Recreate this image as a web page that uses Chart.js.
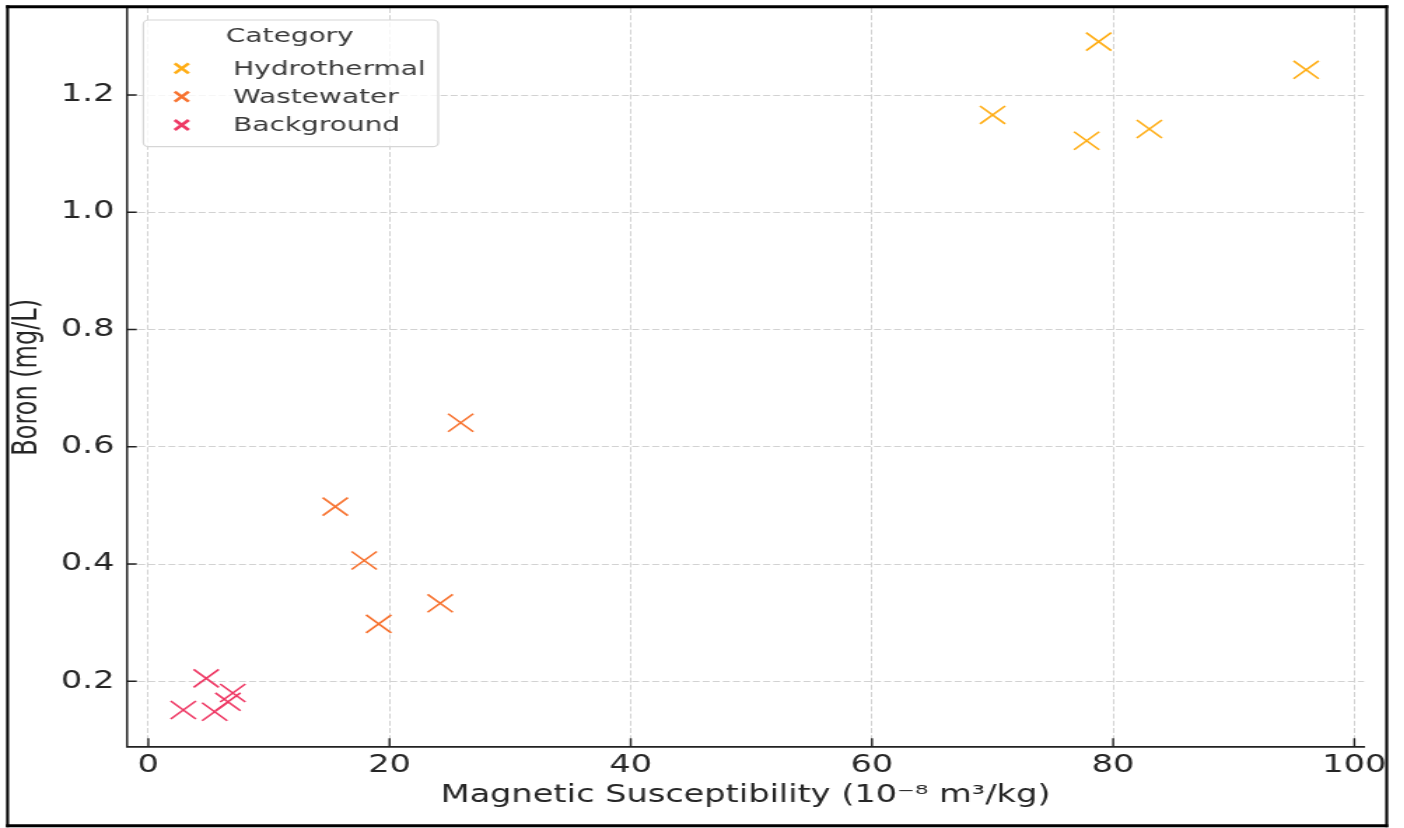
<!DOCTYPE html>
<html>
<head>
<meta charset="utf-8">
<script src="https://cdn.jsdelivr.net/npm/chart.js@4/dist/chart.umd.min.js"></script>
<style>
  html, body { margin: 0; padding: 0; background: #ffffff; overflow: hidden; }
  #wrap { width: 1003px; height: 828px; transform: scaleX(1.4); transform-origin: 0 0; }
  canvas { display: block; }
</style>
</head>
<body>
<div id="wrap"><canvas id="chart" width="1003" height="828"></canvas></div>
<script>
// Boron concentration vs. magnetic susceptibility, grouped by sample source
const categories = ['Hydrothermal', 'Wastewater', 'Background'];
const categoryColors = ['#FFAD14', '#F7722F', '#EE3864'];

const hydrothermalX = [70.0, 78.8, 96.0, 77.8, 83.0];
const hydrothermalY = [1.166, 1.291, 1.243, 1.122, 1.142];

const wastewaterX = [25.9, 15.5, 17.9, 19.1, 24.2];
const wastewaterY = [0.641, 0.498, 0.406, 0.298, 0.333];

const backgroundX = [4.8, 2.9, 5.5, 7.0, 6.6];
const backgroundY = [0.205, 0.151, 0.148, 0.180, 0.165];

const xTicks = [0, 20, 40, 60, 80, 100];
const yTicks = [0.2, 0.4, 0.6, 0.8, 1.0, 1.2];

const xTitle = 'Magnetic Susceptibility (10\u207B\u2078 m\u00B3/kg)';
const yTitle = 'Boron (mg/L)';
const legendTitle = 'Category';

const FONT = 'DejaVu Sans';
const TEXT = '#262626';

function toPoints(xs, ys) {
  return xs.map((x, i) => ({ x: x, y: ys[i] }));
}

const seriesX = [hydrothermalX, wastewaterX, backgroundX];
const seriesY = [hydrothermalY, wastewaterY, backgroundY];

const datasets = categories.map((name, i) => ({
  label: name,
  data: toPoints(seriesX[i], seriesY[i]),
  pointStyle: 'crossRot',
  pointRadius: 12.7,
  pointBorderWidth: 1.6,
  borderColor: categoryColors[i],
  backgroundColor: categoryColors[i],
  showLine: false
}));

// Outer frame around the whole figure
const framePlugin = {
  id: 'frame',
  afterDraw(chart) {
    const ctx = chart.ctx;
    ctx.save();
    ctx.strokeStyle = '#000000';
    ctx.lineWidth = 3;
    ctx.beginPath();
    ctx.moveTo(4.3, 6.7); ctx.lineTo(991.5, 6.7);
    ctx.moveTo(4.3, 825.8); ctx.lineTo(991.5, 825.8);
    ctx.stroke();
    ctx.lineWidth = 2.1;
    ctx.beginPath();
    ctx.moveTo(5.4, 5.2); ctx.lineTo(5.4, 827.3);
    ctx.moveTo(990.5, 5.2); ctx.lineTo(990.5, 827.3);
    ctx.stroke();
    ctx.restore();
  }
};

// Inward-pointing tick marks on the left and bottom spines
const innerTicksPlugin = {
  id: 'innerTicks',
  afterDatasetsDraw(chart) {
    const ctx = chart.ctx;
    const xs = chart.scales.x, ys = chart.scales.y;
    const area = chart.chartArea;
    ctx.save();
    ctx.strokeStyle = '#222222';
    ctx.lineWidth = 1.4;
    ctx.beginPath();
    xTicks.forEach(v => {
      const px = xs.getPixelForValue(v);
      ctx.moveTo(px, area.bottom);
      ctx.lineTo(px, area.bottom - 8.5);
    });
    ys.ticks.forEach(t => {
      const py = ys.getPixelForValue(t.value);
      ctx.moveTo(area.left, py);
      ctx.lineTo(area.left + 7, py);
    });
    ctx.stroke();
    ctx.restore();
  }
};

// Legend box in the upper-left corner of the plot
const legendBoxPlugin = {
  id: 'legendBox',
  afterDatasetsDraw(chart) {
    const ctx = chart.ctx;
    const bx = 102.4, by = 20, bw = 210.6, bh = 126.7, r = 4;
    ctx.save();
    ctx.beginPath();
    ctx.moveTo(bx + r, by);
    ctx.lineTo(bx + bw - r, by);
    ctx.arcTo(bx + bw, by, bx + bw, by + r, r);
    ctx.lineTo(bx + bw, by + bh - r);
    ctx.arcTo(bx + bw, by + bh, bx + bw - r, by + bh, r);
    ctx.lineTo(bx + r, by + bh);
    ctx.arcTo(bx, by + bh, bx, by + bh - r, r);
    ctx.lineTo(bx, by + r);
    ctx.arcTo(bx, by, bx + r, by, r);
    ctx.closePath();
    ctx.fillStyle = 'rgba(255,255,255,0.8)';
    ctx.fill();
    ctx.strokeStyle = '#d6d6d6';
    ctx.lineWidth = 1.2;
    ctx.stroke();

    ctx.fillStyle = '#3a3a3a';
    ctx.font = '20px "' + FONT + '"';
    ctx.textAlign = 'center';
    ctx.textBaseline = 'middle';
    ctx.fillText(legendTitle, 207, 37);

    const rows = [68.3, 96.7, 125];
    chart.data.datasets.forEach((ds, i) => {
      const cy = rows[i], cx = 129.8, h = 5;
      ctx.strokeStyle = ds.borderColor;
      ctx.lineWidth = 2.6;
      ctx.beginPath();
      ctx.moveTo(cx - h, cy - h); ctx.lineTo(cx + h, cy + h);
      ctx.moveTo(cx - h, cy + h); ctx.lineTo(cx + h, cy - h);
      ctx.stroke();
      ctx.fillStyle = '#3a3a3a';
      ctx.textAlign = 'left';
      ctx.fillText(ds.label, 166.5, cy + 1);
    });
    ctx.restore();
  }
};

new Chart(document.getElementById('chart'), {
  type: 'scatter',
  data: { datasets: datasets },
  plugins: [innerTicksPlugin, legendBoxPlugin, framePlugin],
  options: {
    responsive: false,
    animation: false,
    events: [],
    layout: { autoPadding: false, padding: { left: 7.6, right: 28.7, top: 8, bottom: 20 } },
    plugins: { legend: { display: false }, tooltip: { enabled: false } },
    scales: {
      x: {
        type: 'linear',
        min: -1.77,
        max: 100.8,
        afterFit(scale) {
          scale.height = 61.3;
          scale.paddingLeft = 0;
          scale.paddingRight = 0;
        },
        afterBuildTicks(scale) { scale.ticks = xTicks.map(v => ({ value: v })); },
        ticks: {
          includeBounds: false,
          padding: 5,
          color: TEXT,
          font: { family: FONT, size: 24 },
          callback: v => String(v)
        },
        grid: { color: '#d2d2d2', lineWidth: 1, drawTicks: false },
        border: { display: true, color: '#222222', width: 1.8, dash: [5, 2.2] },
        title: {
          display: true,
          text: xTitle,
          color: TEXT,
          font: { family: FONT, size: 24, lineHeight: 1 },
          padding: { top: 0, bottom: 0 }
        }
      },
      y: {
        type: 'linear',
        min: 0.08845,
        max: 1.34839,
        afterFit(scale) {
          scale.width = 83.1;
          scale.paddingTop = 0;
          scale.paddingBottom = 0;
        },
        afterBuildTicks(scale) { scale.ticks = yTicks.map(v => ({ value: v })); },
        ticks: {
          includeBounds: false,
          padding: 9,
          color: TEXT,
          font: { family: FONT, size: 24 },
          callback: v => Number(v).toFixed(1)
        },
        grid: { color: '#d2d2d2', lineWidth: 1, drawTicks: false },
        border: { display: true, color: '#222222', width: 1.5, dash: [5, 2.2] },
        title: {
          display: true,
          text: yTitle,
          color: TEXT,
          font: { family: FONT, size: 24, lineHeight: 1 },
          padding: { top: 0, bottom: 0 }
        }
      }
    }
  }
});
</script>
</body>
</html>
